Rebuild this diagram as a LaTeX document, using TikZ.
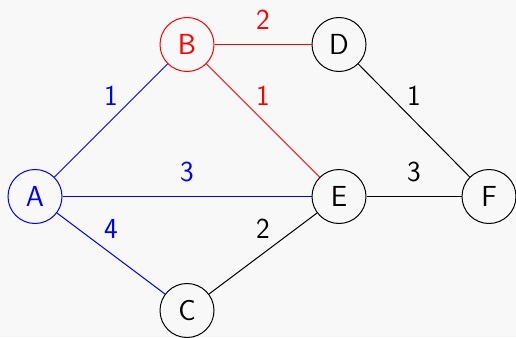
\documentclass[tikz,border=0pt]{standalone}
\usepackage{tikz}
\usetikzlibrary{positioning, calc}
\definecolor{bgpaper}{RGB}{248,248,248}
\tikzset{
  vertex/.style={draw, circle, minimum size=54pt, inner sep=0pt, line width=1pt},
  weight/.style={midway, yshift=25pt, inner sep=0pt}
}

\begin{document}
\begin{tikzpicture}[x=1pt, y=-1pt, line width=1pt,
    font=\sffamily\fontsize{29}{34}\selectfont]
      % background and bounding box
      \fill[bgpaper] (0,0) rectangle (516,337);
      \useasboundingbox (0,0) rectangle (516,337);
      % vertices
      \node[vertex, draw=blue, text=blue] (A) at (35,196.5) {A};
      \node[vertex, draw=red, text=red] (B) at (187,44.5) {B};
      \node[vertex] (D) at (339,44.5) {D};
      \node[vertex] (E) at (339,196.5) {E};
      \node[vertex] (F) at (489,196.5) {F};
      \node[vertex] (C) at (187,310.5) {C};
      % edges
      \draw[blue] (A) -- node[weight] {1} (B);
      \draw[blue] (A) -- node[weight] {3} (E);
      \draw[blue] (A) -- node[weight] {4} (C);
      \draw[red] (B) -- node[weight] {2} (D);
      \draw[red] (B) -- node[weight] {1} (E);
      \draw (D) -- node[weight] {1} (F);
      \draw (E) -- node[weight] {3} (F);
      \draw (C) -- node[weight] {2} (E);
\end{tikzpicture}
\end{document}
